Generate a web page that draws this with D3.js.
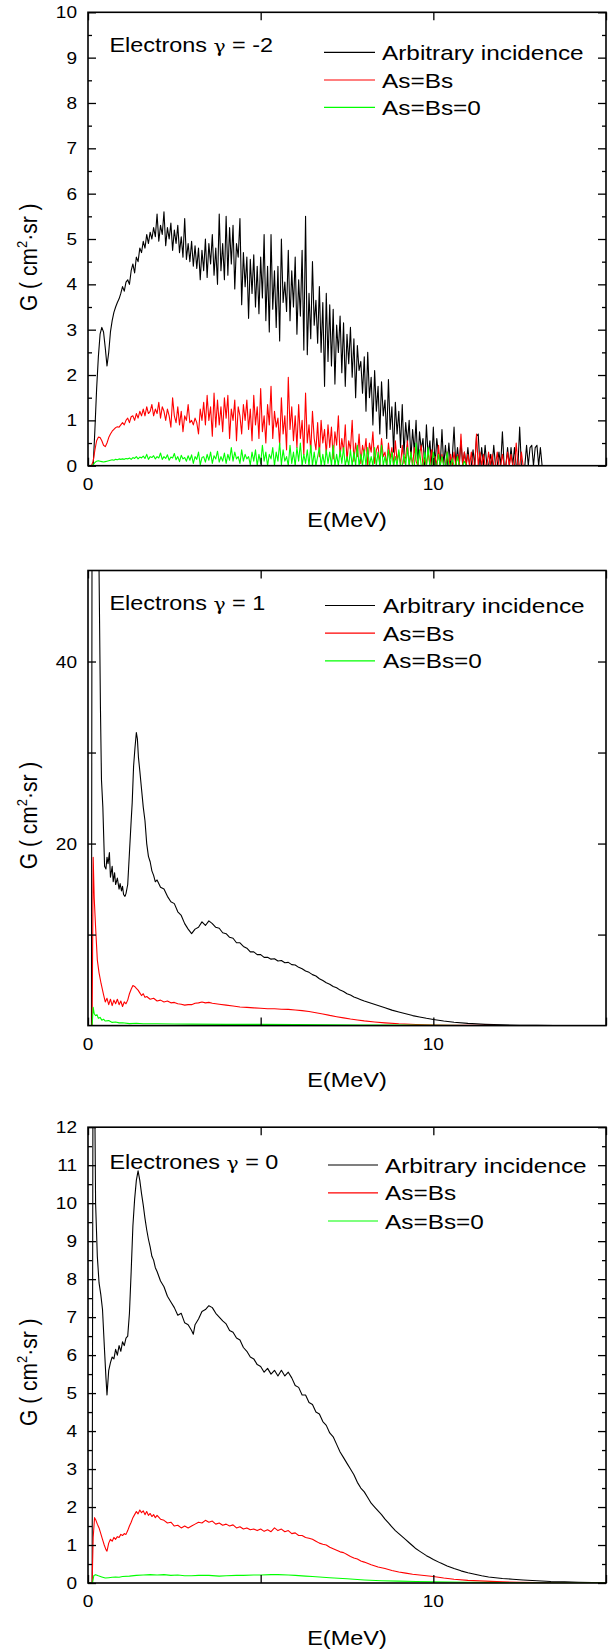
<!DOCTYPE html>
<html><head><meta charset="utf-8">
<script src="https://cdn.jsdelivr.net/npm/d3@7"></script>
<style>
body{margin:0;background:#fff}
svg{display:block}
text{font-family:Arial,"Liberation Sans",sans-serif;fill:#000}
</style>
</head><body>
<svg id="c" width="608" height="1649"></svg>
<script>
// ---------------- DATA ----------------
const E_MAX = 15;
const xTicks = [0, 5, 10, 15];
const xTickLabels = {0: "0", 10: "10"};
const seriesNames = ["Arbitrary incidence", "As=Bs", "As=Bs=0"];
const seriesColors = ["#000000", "#ff0000", "#00ff00"];

// Panel 1 (Electrons gamma = -2), values every 0.05 MeV starting at 0
const STEP1 = 0.05;
const p1Black = [
0,0,0,0,0.8,1.7,2.4,2.9,3.05,2.95,2.6,2.2,2.5,2.95,3.2,3.38,3.5,3.6,3.68,3.8,
3.95,3.85,4.05,4.1,4.0,4.3,4.45,4.25,4.6,4.5,4.8,4.7,4.95,4.8,5.1,4.9,5.15,5.0,5.25,5.05,
5.55,4.95,5.3,5.1,5.6,4.85,5.25,5.0,5.35,4.75,5.2,4.9,5.3,4.7,5.05,4.6,5.45,4.55,4.9,4.5,
4.95,4.4,4.85,4.35,4.8,4.1,4.75,4.3,5.0,4.15,4.9,4.45,5.1,4.2,4.8,4.0,5.55,4.3,4.9,4.1,
5.5,4.2,5.25,4.45,5.3,3.9,4.9,4.6,5.45,3.55,4.7,3.95,4.6,3.25,4.55,3.8,4.65,3.5,4.4,3.35,
4.6,3.7,5.1,3.2,4.4,2.95,5.1,3.45,4.3,3.05,4.4,2.75,5.0,3.6,4.05,3.4,4.75,3.2,4.3,3.5,
4.6,2.9,4.1,3.3,4.75,2.55,5.5,2.45,3.8,2.8,4.5,3.1,3.65,2.7,3.95,2.5,3.6,1.75,3.8,2.3,
3.55,2.2,3.45,1.8,3.1,2.5,3.3,2.05,3.15,1.75,2.9,2.25,3.05,1.95,2.8,1.5,2.65,2.1,2.3,1.6,
2.4,1.2,2.5,1.5,1.95,0.9,2.1,1.2,1.75,0.7,1.85,1.1,1.45,0.6,1.9,0.8,1.3,0.3,1.4,0.7,
1.2,0.4,1.35,0.25,0.95,0.5,1.0,0.15,0.8,0.3,1.0,0,0.75,0.35,0.6,0,0.9,0.2,0.55,0,
0.85,0,0.6,0.25,0,0.8,0,0.45,0,0.5,0,0.2,0.85,0,0.4,0,0.55,0,0.3,0,
0.4,0,0,0.35,0,0.65,0.7,0,0.4,0,0.45,0,0,0.25,0,0.45,0,0,0.3,0,
0.75,0,0,0.4,0,0.4,0,0.4,0,0,0.85,0,0,0,0.45,0,0.4,0.45,0,0.4,
0.45,0,0.4,0
];
const p1Red = [
0,0,0,0.1,0.35,0.55,0.63,0.62,0.55,0.45,0.42,0.5,0.62,0.7,0.76,0.8,0.84,0.86,0.85,0.9,
0.95,0.9,1.0,1.05,0.95,1.08,1.1,1.0,1.15,1.05,1.2,1.1,1.25,1.1,1.3,1.15,1.2,1.35,1.1,1.25,
1.15,1.4,1.05,1.3,1.2,1.0,1.25,1.1,0.85,1.5,1.1,0.95,1.3,0.9,1.2,0.75,1.1,1.0,1.35,0.95,
1.0,0.9,1.05,0.95,0.7,1.25,1.0,1.4,0.9,1.55,1.0,1.3,0.65,1.6,0.85,1.45,0.9,1.3,0.75,1.5,
1.05,1.55,0.6,1.25,1.0,1.45,0.55,1.3,1.1,0.7,1.35,1.0,1.45,0.8,1.25,0.55,1.55,0.9,1.3,0.6,
1.7,0.75,1.1,0.5,1.35,0.9,1.75,0.6,1.2,0.85,1.05,0.45,1.5,0.7,1.1,0.35,1.95,0.8,1.3,0.55,
1.1,0.4,1.35,0.6,1.0,0.25,1.6,0.5,0.9,0.3,1.2,0.6,0.35,0.95,0.2,1.0,0.5,0.8,0.25,0.9,
0.4,0.85,0.15,0.75,0.45,1.1,0.2,0.6,0.3,0.9,0.1,0.55,0.35,1.0,0.1,0.5,0.2,0.7,0.05,0.45,
0.25,0.6,0,0.5,0.3,0.75,0.05,0.35,0.45,0,0.6,0.2,0.3,0,0.5,0.15,0.4,0,0.55,0.1,
0.3,0,0.45,0.05,0.2,0.55,0,0.3,0,0.4,0.1,0,0.25,0.45,0,0.15,0,0.3,0,0.35,
0,0.2,0,0.45,0,0.25,0,0,0.3,0,0.25,0,0.3,0,0.25,0,0.7,0,0.3,0,
0.25,0,0.3,0,0,0.7,0,0.3,0,0.25,0,0,0.3,0,0.25,0,0,0.3,0,0,
0.25,0,0,0.3,0,0.25,0,0,0.5,0,0,0.3,0
];
const p1Green = [
0,0,0,0.02,0.07,0.1,0.11,0.1,0.09,0.08,0.09,0.1,0.11,0.12,0.13,0.12,0.14,0.13,0.15,0.14,
0.15,0.14,0.16,0.15,0.17,0.14,0.18,0.16,0.2,0.15,0.19,0.17,0.21,0.16,0.25,0.14,0.2,0.18,0.22,0.15,
0.2,0.17,0.28,0.14,0.2,0.16,0.24,0.12,0.19,0.17,0.27,0.13,0.2,0.09,0.23,0.15,0.18,0.1,0.22,0.12,
0.24,0.05,0.2,0.14,0.3,0.02,0.18,0.2,0.08,0.25,0.12,0.3,0.05,0.22,0.15,0.32,0.08,0.2,0.1,0.28,
0.05,0.25,0.12,0.4,0.1,0.3,0.15,0.2,0.05,0.35,0.1,0.25,0.15,0.2,0.02,0.3,0.1,0.35,0,0.25,
0.05,0.45,0.1,0.3,0,0.25,0.15,0.4,0,0.3,0.1,0.5,0.02,0.35,0.1,0.2,0,0.45,0.05,0.3,
0,0.4,0.1,0.5,0,0.25,0.05,0.35,0,0.45,0,0.3,0,0.2,0.4,0,0.25,0,0.35,0.05,
0.3,0,0.45,0,0.25,0,0.35,0.05,0.4,0,0.2,0,0.35,0,0.3,0,0.45,0,0.25,0,
0.35,0,0.4,0,0.2,0,0.4,0,0.3,0,0.45,0,0.2,0,0.35,0,0.3,0,0.2,0,
0.35,0,0,0.25,0,0.4,0,0.3,0,0,0.5,0,0.35,0,0,0.3,0,0.4,0,0,
0.3,0,0,0.25,0,0.2,0,0,0.3,0,0,0.15,0,0,0.2,0,0,0,0.1,0
];

// Panel 2 (Electrons gamma = 1): [E (MeV), G]
const p2Black = [[0,0],[0.1,0],[0.12,70],[0.3,70],[0.32,50],[0.36,35],[0.39,27],[0.43,24],[0.48,17.5],[0.52,17.2],[0.55,18.5],[0.58,17.8],[0.62,19],[0.65,16.3],[0.7,17.5],[0.73,15.8],[0.77,16.8],[0.8,15.5],[0.85,16.2],[0.9,15.0],[0.93,15.6],[0.97,14.8],[1.0,15.3],[1.03,14.4],[1.07,14.2],[1.1,14.5],[1.15,15.5],[1.2,19],[1.25,22.5],[1.28,24.5],[1.32,28.5],[1.36,30.5],[1.4,32.2],[1.43,31.5],[1.46,29.5],[1.5,28],[1.55,26],[1.6,24],[1.65,22.5],[1.7,20],[1.75,18.6],[1.8,18],[1.85,17],[1.9,16.5],[1.95,15.8],
[2.0,16.0],[2.1,15.2],[2.2,15.0],[2.3,14.2],[2.4,13.6],[2.5,13.4],[2.6,12.5],[2.7,12.1],[2.8,11.2],[2.9,10.6],[3.0,10.1],[3.1,10.6],[3.2,10.8],[3.3,11.4],[3.4,11.0],[3.5,11.5],[3.6,11.2],[3.7,10.8],[3.8,10.7],[3.9,10.2],[4.0,10.1],[4.1,9.7],[4.2,9.6],[4.3,9.1],[4.4,9.1],[4.5,8.7],[4.6,8.5],[4.7,8.1],[4.8,8.1],[4.9,7.8],[5.0,7.8],[5.1,7.5],[5.2,7.5],[5.3,7.3],[5.4,7.35],[5.5,7.1],[5.6,7.15],[5.7,6.9],[5.8,6.95],[5.9,6.7],[6.0,6.65],[6.1,6.4],[6.2,6.25],[6.3,6.0],[6.4,5.85],[6.5,5.6],[6.6,5.45],[6.7,5.15],[6.8,4.95],[6.9,4.7],[7.0,4.55],[7.1,4.3],[7.2,4.15],[7.3,3.9],[7.4,3.75],[7.5,3.5],[7.6,3.35],[7.7,3.15],[7.8,3.0],[7.9,2.85],[8.0,2.7],
[8.2,2.45],[8.4,2.2],[8.6,1.95],[8.8,1.7],[9.0,1.5],[9.2,1.3],[9.4,1.1],[9.6,0.95],[9.8,0.8],[10.0,0.67],[10.3,0.5],[10.6,0.36],[11,0.24],[11.5,0.14],[12,0.08],[12.5,0.04],[13,0.02],[13.5,0.01],[14,0],[15,0]];
const p2Red = [[0,0],[0.12,0],[0.15,18.5],[0.18,14],[0.22,10.8],[0.27,7.2],[0.32,5.8],[0.38,4.6],[0.45,3.4],[0.5,2.6],[0.55,3.0],[0.6,2.3],[0.65,2.9],[0.7,2.2],[0.75,2.8],[0.8,2.4],[0.85,2.9],[0.9,2.3],[0.95,2.7],[1.0,2.1],[1.05,2.6],[1.1,2.4],[1.15,2.8],[1.2,3.5],[1.25,4.0],[1.3,4.4],[1.35,4.3],[1.4,4.1],[1.45,3.9],[1.5,3.6],[1.55,3.3],[1.6,3.5],[1.65,3.1],[1.7,3.2],[1.8,2.9],[1.9,3.0],[2.0,2.7],[2.1,2.8],[2.2,2.6],[2.3,2.7],[2.4,2.5],[2.5,2.55],[2.6,2.4],[2.7,2.35],[2.8,2.25],[2.9,2.3],[3.0,2.3],[3.1,2.45],[3.2,2.5],[3.3,2.6],[3.4,2.5],[3.5,2.55],[3.6,2.45],[3.7,2.4],[3.8,2.35],[4.0,2.25],[4.2,2.15],[4.4,2.05],[4.6,2.0],[4.8,1.95],[5.0,1.9],[5.2,1.85],[5.4,1.85],[5.6,1.8],[5.8,1.78],[6.0,1.72],[6.2,1.65],[6.4,1.55],[6.6,1.42],[6.8,1.28],[7.0,1.12],[7.2,0.98],[7.4,0.85],[7.6,0.72],[7.8,0.62],[8.0,0.52],[8.3,0.4],[8.6,0.3],[9.0,0.2],[9.5,0.12],[10,0.07],[10.5,0.04],[11,0.02],[12,0.01],[13,0],[15,0]];
const p2Green = [[0,0],[0.12,0],[0.15,2.0],[0.18,1.3],[0.22,1.1],[0.26,1.2],[0.3,0.8],[0.35,0.9],[0.4,0.6],[0.45,0.7],[0.5,0.5],[0.6,0.55],[0.7,0.35],[0.8,0.4],[0.9,0.3],[1.0,0.32],[1.2,0.22],[1.4,0.26],[1.6,0.2],[2,0.2],[2.5,0.17],[3,0.16],[4,0.14],[5,0.13],[6,0.12],[7,0.1],[8,0.07],[9,0.05],[10,0.03],[11,0.01],[12,0],[15,0]];

// Panel 3 (Electrones gamma = 0): [E (MeV), G]
const p3Black = [[0,0],[0.12,0],[0.145,14],[0.185,14],[0.22,10.0],[0.27,8.6],[0.32,7.9],[0.37,7.6],[0.42,7.2],[0.48,6.1],[0.52,5.4],[0.55,4.95],[0.6,5.6],[0.65,5.8],[0.7,5.95],[0.75,5.9],[0.8,6.15],[0.85,6.0],[0.9,6.25],[0.95,6.1],[1.0,6.35],[1.05,6.25],[1.1,6.45],[1.15,6.5],[1.2,7.1],[1.25,8.2],[1.3,9.4],[1.35,10.1],[1.4,10.6],[1.45,10.85],[1.5,10.6],[1.55,10.25],[1.6,9.95],[1.65,9.6],[1.7,9.3],[1.75,9.05],[1.8,8.85],[1.85,8.6],[1.9,8.5],[1.95,8.3],[2.0,8.2],[2.1,7.95],[2.2,7.8],[2.3,7.55],[2.4,7.4],[2.5,7.25],[2.6,7.05],[2.7,7.1],[2.8,6.85],[2.9,6.8],[3.0,6.65],[3.05,6.55],[3.1,6.8],[3.2,6.95],[3.3,7.15],[3.4,7.2],[3.5,7.3],[3.6,7.25],[3.7,7.1],[3.8,7.0],[3.9,6.9],[4.0,6.82],[4.1,6.65],[4.2,6.6],[4.3,6.45],[4.4,6.4],[4.5,6.2],[4.6,6.1],[4.7,5.95],[4.8,5.9],[4.9,5.75],[5.0,5.7],[5.1,5.55],[5.2,5.65],[5.3,5.5],[5.4,5.6],[5.5,5.45],[5.6,5.6],[5.7,5.45],[5.8,5.55],[5.9,5.4],[6.0,5.2],[6.1,5.15],[6.2,4.95],[6.3,4.95],[6.4,4.75],[6.5,4.7],[6.6,4.5],[6.7,4.45],[6.8,4.25],[6.9,4.15],[7.0,3.95],[7.1,3.85],[7.2,3.65],[7.3,3.45],[7.4,3.3],[7.5,3.15],[7.6,3.0],[7.7,2.85],[7.8,2.65],[7.9,2.5],[8.0,2.4],[8.1,2.25],[8.2,2.1],[8.3,2.0],[8.4,1.9],[8.5,1.8],[8.6,1.68],[8.7,1.58],[8.8,1.48],[8.9,1.38],[9.0,1.3],[9.1,1.22],[9.2,1.14],[9.3,1.06],[9.4,0.98],[9.5,0.9],[9.6,0.84],[9.7,0.78],[9.8,0.72],[9.9,0.67],[10.0,0.62],[10.2,0.53],[10.4,0.45],[10.6,0.38],[10.8,0.32],[11.0,0.27],[11.2,0.23],[11.4,0.19],[11.6,0.16],[11.8,0.14],[12.0,0.12],[12.3,0.1],[12.6,0.08],[13.0,0.06],[13.4,0.04],[13.8,0.03],[14.2,0.02],[14.6,0.01],[15,0]];
const p3Red = [[0,0],[0.12,0],[0.15,1.2],[0.19,1.72],[0.23,1.65],[0.27,1.55],[0.32,1.45],[0.37,1.3],[0.42,1.15],[0.47,1.0],[0.52,0.88],[0.55,0.84],[0.6,1.05],[0.65,1.15],[0.7,1.1],[0.75,1.2],[0.8,1.15],[0.85,1.22],[0.9,1.2],[0.95,1.28],[1.0,1.25],[1.05,1.3],[1.1,1.28],[1.15,1.38],[1.2,1.5],[1.25,1.6],[1.3,1.72],[1.35,1.8],[1.4,1.88],[1.45,1.82],[1.5,1.92],[1.55,1.85],[1.6,1.9],[1.65,1.8],[1.7,1.88],[1.75,1.78],[1.8,1.83],[1.85,1.75],[1.9,1.8],[1.95,1.72],[2.0,1.78],[2.1,1.68],[2.2,1.65],[2.3,1.58],[2.4,1.6],[2.5,1.5],[2.6,1.52],[2.7,1.45],[2.8,1.5],[2.9,1.45],[3.0,1.5],[3.1,1.55],[3.2,1.6],[3.3,1.58],[3.4,1.65],[3.5,1.6],[3.6,1.63],[3.7,1.55],[3.8,1.58],[3.9,1.52],[4.0,1.55],[4.1,1.5],[4.2,1.53],[4.3,1.45],[4.4,1.48],[4.5,1.42],[4.6,1.45],[4.7,1.4],[4.8,1.42],[4.9,1.38],[5.0,1.42],[5.1,1.36],[5.2,1.4],[5.3,1.35],[5.4,1.45],[5.5,1.38],[5.6,1.42],[5.7,1.35],[5.8,1.38],[5.9,1.3],[6.0,1.32],[6.1,1.25],[6.2,1.25],[6.3,1.2],[6.4,1.18],[6.5,1.15],[6.6,1.1],[6.7,1.05],[6.8,1.02],[6.9,1.0],[7.0,0.94],[7.1,0.9],[7.2,0.86],[7.3,0.82],[7.4,0.8],[7.5,0.75],[7.6,0.7],[7.7,0.66],[7.8,0.63],[7.9,0.58],[8.0,0.55],[8.2,0.48],[8.4,0.42],[8.6,0.38],[8.8,0.33],[9.0,0.29],[9.2,0.26],[9.4,0.23],[9.6,0.21],[9.8,0.19],[10,0.17],[10.3,0.13],[10.6,0.1],[11,0.07],[11.5,0.05],[12,0.03],[12.5,0.02],[13,0.01],[14,0],[15,0]];
const p3Green = [[0,0],[0.13,0],[0.17,0.2],[0.22,0.22],[0.3,0.19],[0.4,0.16],[0.5,0.13],[0.6,0.14],[0.7,0.15],[0.8,0.16],[0.9,0.15],[1.0,0.17],[1.2,0.18],[1.4,0.2],[1.6,0.21],[1.8,0.22],[2.0,0.21],[2.2,0.22],[2.4,0.2],[2.6,0.21],[2.8,0.19],[3.0,0.19],[3.2,0.2],[3.5,0.2],[3.8,0.18],[4.0,0.19],[4.3,0.2],[4.5,0.2],[4.8,0.21],[5.0,0.21],[5.3,0.22],[5.5,0.22],[5.8,0.21],[6.0,0.2],[6.3,0.18],[6.5,0.17],[7.0,0.14],[7.5,0.11],[8.0,0.08],[8.5,0.06],[9.0,0.05],[9.5,0.04],[10,0.03],[11,0.02],[12,0.01],[13,0],[15,0]];

// ---------------- LAYOUT ----------------
const svg = d3.select("#c");
const LEFT = 88, RIGHT = 606;
const SX_LEG = 1.16, SX_TITLE = 1.2, SX_TICK = 1.12, SX_AX = 1.12, SY_YLAB = 1.12;

function gridSeries(vals) {
  const pts = vals.map((v, i) => [i * STEP1, v]);
  pts.push([E_MAX, 0]);
  return pts;
}

const panels = [
  {top: 12.3, bottom: 465.7, yMax: 10, yMajor: d3.range(0, 11), yLabeled: d3.range(0, 11), yMinor: d3.range(0.5, 10, 1),
   title: ["Electrons ", "γ", " = -2"], titleDY: 33, legendDY: [40, 67.7, 95], legX: [324, 375, 382],
   series: [gridSeries(p1Black), gridSeries(p1Red), gridSeries(p1Green)]},
  {top: 570.5, bottom: 1025.6, yMax: 50, yMajor: [10, 20, 30, 40], yLabeled: [20, 40], yMinor: [],
   title: ["Electrons ", "γ", " = 1"], titleDY: 32.2, legendDY: [35, 62.7, 90.3], legX: [325, 375, 383],
   series: [p2Black, p2Red, p2Green]},
  {top: 1127.2, bottom: 1583, yMax: 12, yMajor: d3.range(0, 13), yLabeled: d3.range(0, 13), yMinor: d3.range(0.5, 12, 1),
   title: ["Electrones ", "γ", " = 0"], titleDY: 34.5, legendDY: [37.8, 65.6, 93.8], legX: [328, 378, 385],
   series: [p3Black, p3Red, p3Green]}
];

panels.forEach((p, pi) => {
  const x = d3.scaleLinear().domain([0, E_MAX]).range([LEFT, RIGHT]);
  const y = d3.scaleLinear().domain([0, p.yMax]).range([p.bottom, p.top]);
  const g = svg.append("g");
  const clipId = "clip" + pi;
  svg.append("clipPath").attr("id", clipId).append("rect")
    .attr("x", LEFT).attr("y", p.top).attr("width", RIGHT - LEFT).attr("height", p.bottom - p.top);

  const line = d3.line().x(d => x(d[0])).y(d => y(Math.min(d[1], p.yMax * 1.3)));
  const lg = g.append("g").attr("clip-path", `url(#${clipId})`);
  p.series.forEach((s, si) => {
    lg.append("path").datum(s).attr("d", line)
      .attr("fill", "none").attr("stroke", seriesColors[si])
      .attr("stroke-width", 1.1).attr("stroke-linejoin", "round");
  });

  // axes with inward ticks
  g.append("g").attr("transform", `translate(${LEFT},0)`)
    .call(d3.axisLeft(y).tickValues(p.yMajor).tickSize(-8).tickFormat(""));
  g.append("g").attr("transform", `translate(${RIGHT},0)`)
    .call(d3.axisRight(y).tickValues(p.yMajor).tickSize(-8).tickFormat(""));
  if (p.yMinor.length) {
    g.append("g").attr("transform", `translate(${LEFT},0)`)
      .call(d3.axisLeft(y).tickValues(p.yMinor).tickSize(-4).tickFormat(""));
    g.append("g").attr("transform", `translate(${RIGHT},0)`)
      .call(d3.axisRight(y).tickValues(p.yMinor).tickSize(-4).tickFormat(""));
  }
  g.append("g").attr("transform", `translate(0,${p.bottom})`)
    .call(d3.axisBottom(x).tickValues(xTicks).tickSize(-8).tickFormat(""));
  g.append("g").attr("transform", `translate(0,${p.top})`)
    .call(d3.axisTop(x).tickValues(xTicks).tickSize(-8).tickFormat(""));
  g.selectAll(".domain").remove();
  g.selectAll(".tick line").attr("stroke", "#000").attr("stroke-width", 1.3);

  // frame
  g.append("rect").attr("x", LEFT).attr("y", p.top).attr("width", RIGHT - LEFT).attr("height", p.bottom - p.top)
    .attr("fill", "none").attr("stroke", "#000").attr("stroke-width", 1.6);

  // y tick labels
  g.selectAll(".ylab").data(p.yLabeled).enter().append("text")
    .attr("transform", d => `translate(${LEFT - 11},${y(d)}) scale(${SX_TICK},1)`).attr("dy", "0.36em")
    .attr("text-anchor", "end").attr("font-size", 17).text(d => d);
  // x tick labels
  g.selectAll(".xlab").data(Object.keys(xTickLabels).map(Number)).enter().append("text")
    .attr("transform", d => `translate(${x(d)},${p.bottom + 18}) scale(${SX_TICK},1)`).attr("dy", "0.36em")
    .attr("text-anchor", "middle").attr("font-size", 17).text(d => xTickLabels[d]);

  // x axis title
  g.append("text").attr("transform", `translate(${(LEFT + RIGHT) / 2},${p.bottom + 54}) scale(${SX_AX},1)`).attr("dy", "0.36em")
    .attr("text-anchor", "middle").attr("font-size", 21).text("E(MeV)");

  // y axis title
  const yt = g.append("text").attr("transform", `translate(37,${p.top + 245}) rotate(-90) scale(1,${SY_YLAB})`)
    .attr("text-anchor", "middle").attr("font-size", 21);
  yt.append("tspan").text("G ( cm");
  yt.append("tspan").attr("font-size", 13).attr("dy", -9).text("2");
  yt.append("tspan").attr("dy", 9).text("·sr )");

  // panel title
  const tt = g.append("text").attr("transform", `translate(109.5,${p.top + p.titleDY}) scale(${SX_TITLE},1)`)
    .attr("dy", "0.36em").attr("font-size", 19.5);
  tt.append("tspan").text(p.title[0]);
  tt.append("tspan").attr("font-size", 17).attr("font-family", "'DejaVu Serif', serif").text(p.title[1]);
  tt.append("tspan").text(p.title[2]);

  // legend
  seriesNames.forEach((n, i) => {
    const ly = p.top + p.legendDY[i];
    g.append("line").attr("x1", p.legX[0]).attr("x2", p.legX[1]).attr("y1", ly).attr("y2", ly)
      .attr("stroke", seriesColors[i]).attr("stroke-width", 1.2);
    g.append("text").attr("transform", `translate(${p.legX[2]},${ly}) scale(${SX_LEG},1)`)
      .attr("dy", "0.36em").attr("font-size", 21).text(n);
  });
});
</script>
</body></html>
